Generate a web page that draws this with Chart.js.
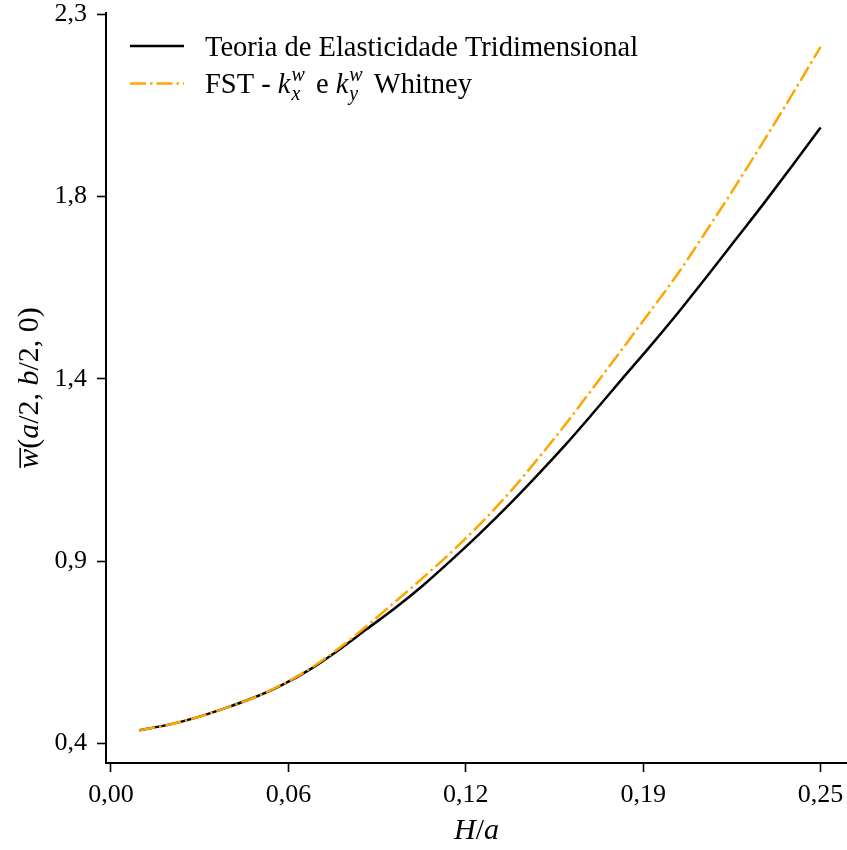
<!DOCTYPE html>
<html>
<head>
<meta charset="utf-8">
<script src="https://cdn.jsdelivr.net/npm/chart.js@4.4.1/dist/chart.umd.min.js"></script>
<style>
  html, body { margin: 0; padding: 0; background: #fff; }
  canvas { display: block; }
</style>
</head>
<body>
<canvas id="grafico" width="847" height="850"></canvas>
<script>
'use strict';

// Dados
const razaoHa = [0.01, 0.02, 0.03, 0.04, 0.05, 0.06, 0.07, 0.08, 0.09, 0.10,
  0.11, 0.12, 0.13, 0.14, 0.15, 0.16, 0.17, 0.18, 0.19, 0.20,
  0.21, 0.22, 0.23, 0.24, 0.25];

const wTeoria3D = [0.434, 0.448, 0.467, 0.491, 0.518, 0.551, 0.592, 0.642, 0.697, 0.752,
  0.812, 0.878, 0.947, 1.020, 1.097, 1.177, 1.262, 1.349, 1.435, 1.524,
  1.617, 1.712, 1.807, 1.905, 2.005];

const wFSTWhitney = [0.434, 0.448, 0.467, 0.491, 0.518, 0.552, 0.594, 0.646, 0.705, 0.768,
  0.832, 0.899, 0.971, 1.050, 1.138, 1.230, 1.328, 1.426, 1.526, 1.627,
  1.738, 1.852, 1.970, 2.091, 2.215];

const xTicks = [0, 0.0625, 0.125, 0.1875, 0.25];
const xTickLabels = ['0,00', '0,06', '0,12', '0,19', '0,25'];
const yTicks = [0.4, 0.875, 1.35, 1.825, 2.3];
const yTickLabels = ['0,4', '0,9', '1,4', '1,8', '2,3'];

const FONTE = "'Liberation Serif', 'DejaVu Serif', serif";
const LARANJA = '#ffa500';
const TRACO = [16, 4, 2.5, 4];

function pontos(ys) {
  return razaoHa.map(function (x, i) {
    return { x: x, y: ys[i] };
  });
}

// desenha texto com itálico, sobrescrito/subscrito e barra
function medirRico(ctx, partes, tam) {
  let w = 0;
  partes.forEach(function (p) {
    if (p.sup !== undefined) {
      ctx.font = 'italic ' + (tam * 0.7) + 'px ' + FONTE;
      w += Math.max(ctx.measureText(p.sup).width, ctx.measureText(p.sub).width) + 5;
    } else {
      ctx.font = (p.i ? 'italic ' : '') + tam + 'px ' + FONTE;
      w += ctx.measureText(p.t).width;
    }
  });
  return w;
}

function desenharRico(ctx, partes, x, y, tam) {
  ctx.textBaseline = 'alphabetic';
  ctx.textAlign = 'left';
  partes.forEach(function (p) {
    if (p.sup !== undefined) {
      ctx.font = 'italic ' + (tam * 0.7) + 'px ' + FONTE;
      ctx.fillText(p.sup, x + 1, y - tam * 0.42);
      ctx.fillText(p.sub, x + 1, y + tam * 0.24);
      x += Math.max(ctx.measureText(p.sup).width, ctx.measureText(p.sub).width) + 5;
    } else {
      ctx.font = (p.i ? 'italic ' : '') + tam + 'px ' + FONTE;
      const w = ctx.measureText(p.t).width;
      ctx.fillText(p.t, x, y);
      if (p.barra) {
        ctx.fillRect(x + 1, y - tam * 0.62, w, 1.6);
      }
      x += w;
    }
  });
}

const itensLegenda = [
  {
    cor: '#000000', traco: [],
    partes: [{ t: 'Teoria de Elasticidade Tridimensional' }]
  },
  {
    cor: LARANJA, traco: TRACO,
    partes: [
      { t: 'FST - ' }, { t: 'k', i: true }, { sup: 'w', sub: 'x' },
      { t: ' e ' }, { t: 'k', i: true }, { sup: 'w', sub: 'y' },
      { t: ' Whitney' }
    ]
  }
];

const tituloX = [{ t: 'H', i: true }, { t: '/' }, { t: 'a', i: true }];
const tituloY = [
  { t: 'w', i: true, barra: true }, { t: '(' }, { t: 'a', i: true },
  { t: '/2, ' }, { t: 'b', i: true }, { t: '/2, 0)' }
];

const pluginTextos = {
  id: 'textos',
  afterDraw: function (chart) {
    const ctx = chart.ctx;
    const area = chart.chartArea;
    ctx.save();
    // legenda
    itensLegenda.forEach(function (item, i) {
      const yl = 46 + i * 37.5;
      ctx.strokeStyle = item.cor;
      ctx.lineWidth = 2.5;
      ctx.setLineDash(item.traco);
      ctx.beginPath();
      ctx.moveTo(130, yl);
      ctx.lineTo(184, yl);
      ctx.stroke();
      ctx.setLineDash([]);
      ctx.fillStyle = '#000';
      desenharRico(ctx, item.partes, 205, yl + 9.5, 28.5);
    });
    // título do eixo x
    const lx = medirRico(ctx, tituloX, 30);
    desenharRico(ctx, tituloX, (area.left + area.right) / 2 - lx / 2, 839, 30);
    // título do eixo y
    ctx.translate(38, (area.top + area.bottom) / 2);
    ctx.rotate(-Math.PI / 2);
    const ly = medirRico(ctx, tituloY, 30);
    desenharRico(ctx, tituloY, -ly / 2, 0, 30);
    ctx.restore();
  }
};

new Chart(document.getElementById('grafico').getContext('2d'), {
  type: 'line',
  data: {
    datasets: [
      {
        label: 'Teoria de Elasticidade Tridimensional',
        data: pontos(wTeoria3D),
        borderColor: '#000000',
        borderWidth: 2.5,
        pointRadius: 0,
        cubicInterpolationMode: 'monotone',
        fill: false,
        order: 2
      },
      {
        label: 'FST - kx e ky Whitney',
        data: pontos(wFSTWhitney),
        borderColor: LARANJA,
        borderWidth: 2.5,
        borderDash: TRACO,
        pointRadius: 0,
        cubicInterpolationMode: 'monotone',
        fill: false,
        order: 1
      }
    ]
  },
  options: {
    responsive: false,
    devicePixelRatio: 1,
    animation: false,
    layout: { padding: { top: 13, right: 0, bottom: 0, left: 0 } },
    plugins: {
      legend: { display: false },
      tooltip: { enabled: false }
    },
    scales: {
      x: {
        type: 'linear',
        min: -0.00176,
        max: 0.2593,
        afterBuildTicks: function (scale) {
          scale.ticks = xTicks.map(function (v) { return { value: v }; });
        },
        afterFit: function (scale) {
          scale.height = 87;
          scale.paddingLeft = 0;
          scale.paddingRight = 0;
        },
        ticks: {
          autoSkip: false,
          maxRotation: 0,
          padding: 10,
          color: '#000',
          font: { family: FONTE, size: 26, lineHeight: 1 },
          callback: function (v, i) { return xTickLabels[i]; }
        },
        grid: {
          drawOnChartArea: false,
          drawTicks: true,
          tickLength: 9,
          tickWidth: 1.6,
          tickColor: '#000'
        },
        border: { display: true, color: '#000', width: 2 }
      },
      y: {
        type: 'linear',
        min: 0.3487,
        max: 2.3031,
        afterBuildTicks: function (scale) {
          scale.ticks = yTicks.map(function (v) { return { value: v }; });
        },
        afterFit: function (scale) {
          scale.width = 106;
          scale.paddingTop = 0;
          scale.paddingBottom = 0;
        },
        ticks: {
          autoSkip: false,
          padding: 10,
          color: '#000',
          font: { family: FONTE, size: 26, lineHeight: 1 },
          callback: function (v, i) { return yTickLabels[i]; }
        },
        grid: {
          drawOnChartArea: false,
          drawTicks: true,
          tickLength: 9,
          tickWidth: 1.6,
          tickColor: '#000'
        },
        border: { display: true, color: '#000', width: 2 }
      }
    }
  },
  plugins: [pluginTextos]
});
</script>
</body>
</html>
